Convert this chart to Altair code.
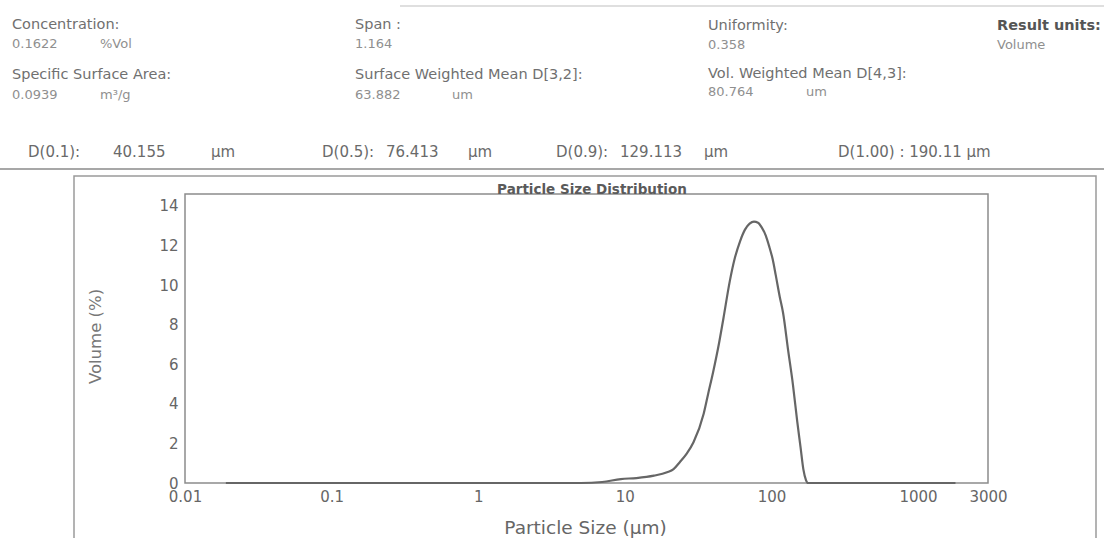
import altair as alt
import pandas as pd

# ---------------- data ----------------
size_um = [0.019, 1, 5, 7, 9.4, 12, 15.8, 19.4, 21.5, 23.7, 26.5, 29.4, 34.5, 37, 40, 44, 47,
           52, 56, 61, 66, 71, 76, 81, 86, 91.5, 97, 102, 107, 114, 120, 130, 140, 150,
           158, 165, 172, 178, 300, 1800]
volume_pct = [0, 0, 0, 0.05, 0.2, 0.25, 0.37, 0.54, 0.7, 1.05, 1.5, 2.06, 3.5, 4.5, 5.6, 7.1, 8.3,
              10.2, 11.3, 12.2, 12.8, 13.1, 13.2, 13.15, 12.9, 12.5, 11.9, 11.3, 10.5, 9.4, 8.6, 6.7, 5.0, 3.1,
              1.8, 0.7, 0.15, 0, 0, 0]

x_ticks = [0.01, 0.1, 1, 10, 100, 1000, 3000]
y_ticks = [0, 2, 4, 6, 8, 10, 12, 14]

header_labels = ["Concentration:", "Span :", "Uniformity:", "Result units:",
                 "Specific Surface Area:", "Surface Weighted Mean D[3,2]:", "Vol. Weighted Mean D[4,3]:"]
header_values = ["0.1622", "1.164", "0.358", "Volume", "0.0939", "63.882", "80.764"]
header_units = ["%Vol", "", "", "", "m³/g", "um", "um"]

d_labels = ["D(0.1):", "D(0.5):", "D(0.9):", "D(1.00) :"]
d_values = ["40.155", "76.413", "129.113", "190.11"]
d_unit = "µm"

chart_title = "Particle Size Distribution"
x_title = "Particle Size (µm)"
y_title = "Volume (%)"

# ---------------- layout (page pixels) ----------------
W, H = 1104, 538
PL, PT, PR, PB = 185, 194, 988, 483
pw, ph = PR - PL, PB - PT

lab_x = [12, 355, 708, 997, 12, 355, 708]
lab_y = [25, 25, 26, 26, 75, 75, 74]
val_y = [44, 44, 45, 45, 95, 95, 92]
unit_x = [100, 0, 0, 0, 100, 452, 806]
lab_kind = ["label", "label", "label", "bold", "label", "label", "label"]

d_lab_x = [28, 322, 556, 838]
d_val_x = [113, 386, 620, 0]
d_unit_x = [211, 468, 704, 0]
d_y = 152

FONT = "DejaVu Sans"

rows = []
for t, x, y, k in zip(header_labels, lab_x, lab_y, lab_kind):
    rows.append(dict(text=t, px=x - PL, py=y - PT, kind=k))
for t, x, y in zip(header_values, lab_x, val_y):
    rows.append(dict(text=t, px=x - PL, py=y - PT, kind="value"))
for t, x, y in zip(header_units, unit_x, val_y):
    if t:
        rows.append(dict(text=t, px=x - PL, py=y - PT, kind="value"))
for i, (l, v) in enumerate(zip(d_labels, d_values)):
    if i < 3:
        rows.append(dict(text=l, px=d_lab_x[i] - PL, py=d_y - PT, kind="d"))
        rows.append(dict(text=v, px=d_val_x[i] - PL, py=d_y - PT, kind="d"))
        rows.append(dict(text=d_unit, px=d_unit_x[i] - PL, py=d_y - PT, kind="d"))
    else:
        rows.append(dict(text=f"{l} {v} {d_unit}", px=d_lab_x[i] - PL, py=d_y - PT, kind="d"))
txt = pd.DataFrame(rows)

def text_layer(kind, size, color, weight="normal"):
    return alt.Chart(txt).transform_filter(alt.datum.kind == kind).mark_text(
        align="left", baseline="middle", font=FONT, fontSize=size, color=color, fontWeight=weight
    ).encode(x=alt.X("px:Q", scale=None), y=alt.Y("py:Q", scale=None), text="text:N")

df = pd.DataFrame({"size": size_um, "vol": volume_pct})

x_enc = alt.X("size:Q", scale=alt.Scale(type="log", domain=[0.01, 3000], nice=False),
              axis=alt.Axis(values=x_ticks, labelExpr="datum.value + ''", grid=False, ticks=False,
                            domain=False, labelFontSize=15, labelColor="#666", labelPadding=6,
                            labelFont=FONT, title=x_title, titleFont=FONT, titleFontSize=18.5,
                            titleFontWeight="normal", titleColor="#666", titleX=400, titleY=44,
                            titleAlign="center", titleBaseline="middle", labelFlush=False))
y_enc = alt.Y("vol:Q", scale=alt.Scale(domain=[0, 14.6], nice=False),
              axis=alt.Axis(values=y_ticks, grid=False, ticks=False, domain=False, labelFontSize=15,
                            labelColor="#666", labelPadding=7, labelFont=FONT, title=y_title,
                            titleFont=FONT, titleFontSize=16.5, titleFontWeight="normal",
                            titleColor="#777", titleX=-90, titleY=142, titleAngle=270,
                            titleAlign="center", titleBaseline="middle"))

curve = alt.Chart(df).mark_line(color="#666666", strokeWidth=2.2, interpolate="monotone").encode(
    x=x_enc, y=y_enc)

one = pd.DataFrame({"k": [0]})
outer_box = alt.Chart(one).mark_rect(fill=None, stroke="#9a9a9a", strokeWidth=1.5).encode(
    x=alt.value(74 - PL), x2=alt.value(1096 - PL), y=alt.value(176 - PT), y2=alt.value(W))
sep_line = alt.Chart(one).mark_rule(color="#8a8a8a", strokeWidth=1.5).encode(
    x=alt.value(0 - PL), x2=alt.value(W - PL), y=alt.value(169 - PT))
top_line = alt.Chart(one).mark_rule(color="#d4d4d4", strokeWidth=1.5).encode(
    x=alt.value(400 - PL), x2=alt.value(W - PL), y=alt.value(6 - PT))
title_mark = alt.Chart(one).mark_text(
    text=chart_title, font=FONT, fontSize=13.5, fontWeight="bold", color="#5a5a5a",
    align="center", baseline="bottom").encode(x=alt.value(592 - PL), y=alt.value(197 - PT))

chart = alt.layer(
    outer_box, sep_line, top_line, curve, title_mark,
    text_layer("label", 14.5, "#707070"),
    text_layer("bold", 14.5, "#555555", "bold"),
    text_layer("value", 13, "#8f8f8f"),
    text_layer("d", 15, "#6a6a6a"),
).properties(
    width=pw, height=ph,
    padding={"left": PL, "top": PT, "right": W - PR, "bottom": H - PB},
    autosize=alt.AutoSizeParams(type="none"),
    background="white",
).configure_view(stroke="#8c8c8c", strokeWidth=1.5)

chart.save("out.html", embed_options={"renderer": "svg", "actions": False})
